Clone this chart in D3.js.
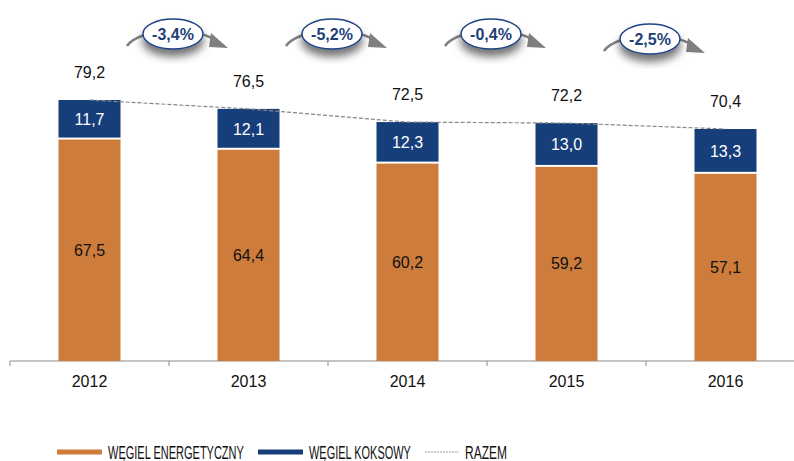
<!DOCTYPE html>
<html>
<head>
<meta charset="utf-8">
<script src="https://cdn.jsdelivr.net/npm/d3@7"></script>
<style>
  body { margin: 0; background: #fff; }
  svg { display: block; font-family: "Liberation Sans", Arial, sans-serif; }
</style>
</head>
<body>
<div id="chart"></div>
<script>
const years = ['2012', '2013', '2014', '2015', '2016']
const energetyczny = [67.5, 64.4, 60.2, 59.2, 57.1]
const koksowy = [11.7, 12.1, 12.3, 13.0, 13.3]
const razem = [79.2, 76.5, 72.5, 72.2, 70.4]
const zmiany = ['-3,4%', '-5,2%', '-0,4%', '-2,5%']
const legendLabels = ['WĘGIEL ENERGETYCZNY', 'WĘGIEL KOKSOWY', 'RAZEM']

const width = 794
const height = 461
const orange = '#cd7c3b'
const blue = '#163e7a'
const fmt = v => v.toFixed(1).replace('.', ',')

const svg = d3.select('#chart').append('svg')
  .attr('width', width)
  .attr('height', height)

const defs = svg.append('defs')
const shadow = defs.append('filter').attr('id', 'shadow')
  .attr('x', '-50%').attr('y', '-50%').attr('width', '200%').attr('height', '200%')
shadow.append('feDropShadow')
  .attr('dx', 0).attr('dy', 7).attr('stdDeviation', 4)
  .attr('flood-color', '#000').attr('flood-opacity', 0.55)

const x = d3.scaleBand().domain(years).range([10, 805]).paddingInner(0).paddingOuter(0)
const y = d3.scaleLinear().domain([0, 79.2]).range([361, 100])
const barW = 62

// axis
const axisG = svg.append('g').attr('transform', 'translate(0,361)')
axisG.append('line').attr('x1', 10).attr('x2', width).attr('stroke', '#8c8c8c')
axisG.selectAll('.tick').data(years).enter().append('line')
  .attr('x1', d => x(d)).attr('x2', d => x(d))
  .attr('y1', 0).attr('y2', 5).attr('stroke', '#8c8c8c')
axisG.selectAll('.yr').data(years).enter().append('text')
  .attr('x', d => x(d) + x.bandwidth() / 2).attr('y', 26)
  .attr('text-anchor', 'middle').attr('font-size', 16).attr('fill', '#111')
  .text(d => d)

// bars
const bars = svg.append('g').selectAll('g').data(years).enter().append('g')
  .attr('transform', d => `translate(${x(d) + x.bandwidth() / 2 - barW / 2},0)`)

bars.append('rect')
  .attr('y', (d, i) => y(energetyczny[i]) + 1)
  .attr('width', barW)
  .attr('height', (d, i) => y(0) - y(energetyczny[i]) - 1)
  .attr('fill', orange)

bars.append('rect')
  .attr('y', (d, i) => y(razem[i]))
  .attr('width', barW)
  .attr('height', (d, i) => y(energetyczny[i]) - y(razem[i]) - 1)
  .attr('fill', blue)

bars.append('text')
  .attr('x', barW / 2)
  .attr('y', (d, i) => (y(energetyczny[i]) + y(0)) / 2 + 6)
  .attr('text-anchor', 'middle').attr('font-size', 16).attr('fill', '#111')
  .text((d, i) => fmt(energetyczny[i]))

bars.append('text')
  .attr('x', barW / 2)
  .attr('y', (d, i) => (y(energetyczny[i]) + y(razem[i])) / 2 + 6)
  .attr('text-anchor', 'middle').attr('font-size', 16).attr('fill', '#fff')
  .text((d, i) => fmt(koksowy[i]))

bars.append('text')
  .attr('x', barW / 2)
  .attr('y', (d, i) => y(razem[i]) - 22)
  .attr('text-anchor', 'middle').attr('font-size', 16).attr('fill', '#111')
  .text((d, i) => fmt(razem[i]))

// total line
const line = d3.line().x((d, i) => x(years[i]) + x.bandwidth() / 2).y(d => y(d))
svg.append('path').datum(razem)
  .attr('d', line)
  .attr('fill', 'none').attr('stroke', '#888').attr('stroke-width', 1.2)
  .attr('stroke-dasharray', '4,2')

// change bubbles
const bub = svg.append('g').selectAll('g').data(zmiany).enter().append('g')
  .attr('transform', (d, i) => `translate(${x(years[i + 1]) + 4},${i === 3 ? 39 : 34})`)

bub.append('path')
  .attr('d', 'M-46,12 C-34,-6 22,-8 42,6')
  .attr('fill', 'none').attr('stroke', '#7f7f7f').attr('stroke-width', 2.5)

bub.append('path')
  .attr('d', 'M38,-1 L55,14 L36,13 Z')
  .attr('fill', '#7f7f7f')

bub.append('ellipse')
  .attr('rx', 30).attr('ry', 15)
  .attr('fill', '#fff').attr('stroke', '#1f4585').attr('stroke-width', 1.5)
  .attr('filter', 'url(#shadow)')

bub.append('text')
  .attr('y', 6).attr('text-anchor', 'middle')
  .attr('font-size', 16).attr('font-weight', 'bold').attr('fill', '#1f3f78')
  .text(d => d)

// legend (narrow text squeezed horizontally, like Arial Narrow)
const legend = svg.append('g').attr('transform', 'translate(0,452)')
const items = [
  {x: 57, w: 45, tw: 136, color: orange, dash: null},
  {x: 258, w: 45, tw: 102, color: blue, dash: null},
  {x: 425, w: 34, tw: 42, color: '#999', dash: '2,1'}
]
items.forEach((it, i) => {
  legend.append('line')
    .attr('x1', it.x).attr('x2', it.x + it.w)
    .attr('stroke', it.color)
    .attr('stroke-width', it.dash ? 1 : 5)
    .attr('stroke-dasharray', it.dash)
  const t = legend.append('text')
    .attr('font-size', 18).attr('fill', '#111')
    .text(legendLabels[i])
  const sx = it.tw / t.node().getComputedTextLength()
  t.attr('transform', `translate(${it.x + it.w + 6},6.5) scale(${sx},1)`)
})
</script>
</body>
</html>
